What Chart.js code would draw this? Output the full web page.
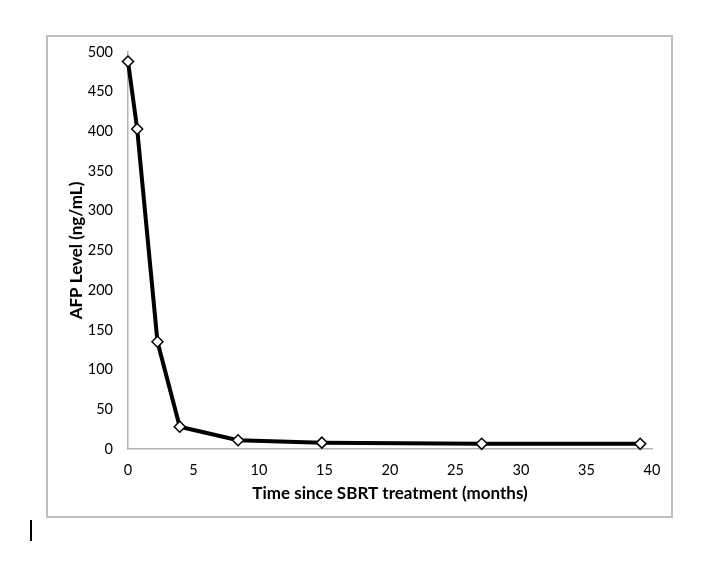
<!DOCTYPE html>
<html>
<head>
<meta charset="utf-8">
<script src="https://cdn.jsdelivr.net/npm/chart.js@4"></script>
<style>
    html, body { margin: 0; padding: 0; background: #fff; }
    body { width: 720px; height: 562px; position: relative; overflow: hidden; }
    #frame {
        position: absolute; left: 46px; top: 35px; width: 627px; height: 483px;
        border: 2px solid #bfbfbf; box-sizing: border-box;
    }
    #cursor { position: absolute; left: 30px; top: 520px; width: 2px; height: 21px; background: #000; }
</style>
</head>
<body>
<div id="frame"><canvas id="afpChart"></canvas></div>
<div id="cursor"></div>
<script>
// AFP level after SBRT treatment
const months = [0, 0.7, 2.25, 3.95, 8.4, 14.8, 27, 39.1];
const afpLevels = [488, 403, 135, 28, 11, 8, 6.5, 6.5];
const xTicks = [0, 5, 10, 15, 20, 25, 30, 35, 40];
const yTicks = [0, 50, 100, 150, 200, 250, 300, 350, 400, 450, 500];

const axisColor = '#b3b3b3';
const tickFont = { family: 'Lato', size: 14.5 };
const titleFont = { family: 'Lato', size: 17, weight: 'bold' };

window.addEventListener('DOMContentLoaded', () => {
    const ctx = document.getElementById('afpChart');
    ctx.width = 623;
    ctx.height = 479;

    new Chart(ctx.getContext('2d'), {
        type: 'scatter',
        data: {
            datasets: [{
                data: months.map((m, i) => ({ x: m, y: afpLevels[i] })),
                showLine: true,
                borderColor: '#000',
                borderWidth: 4,
                tension: 0,
                clip: false,
                pointStyle: 'rectRot',
                pointRadius: 5.5,
                pointBorderWidth: 1.5,
                pointBorderColor: '#000',
                pointBackgroundColor: '#fff'
            }]
        },
        options: {
            responsive: false,
            animation: false,
            layout: { autoPadding: false, padding: { top: 15, right: 19, left: 0, bottom: 0 } },
            plugins: {
                legend: { display: false },
                tooltip: { enabled: false }
            },
            scales: {
                x: {
                    type: 'linear',
                    min: 0,
                    max: 40,
                    afterBuildTicks: axis => { axis.ticks = xTicks.map(v => ({ value: v })); },
                    afterFit: axis => {
                        axis.height = 67;
                        axis.paddingLeft = 0;
                        axis.paddingRight = 0;
                    },
                    grid: { display: false, drawTicks: false },
                    border: { display: true, color: axisColor, width: 1.5 },
                    ticks: { color: '#000', font: tickFont, padding: 13, maxRotation: 0 },
                    title: {
                        display: true,
                        text: 'Time since SBRT treatment (months)',
                        color: '#000',
                        font: titleFont,
                        padding: { top: 0, bottom: 12 }
                    }
                },
                y: {
                    min: 0,
                    max: 500,
                    afterBuildTicks: axis => { axis.ticks = yTicks.map(v => ({ value: v })); },
                    // tick padding would otherwise push the plot top down
                    afterFit: axis => {
                        axis.width = 80;
                        axis.paddingTop = 0;
                        axis.paddingBottom = 0;
                    },
                    grid: { display: false, drawTicks: false },
                    border: { display: true, color: axisColor, width: 1.5 },
                    ticks: { color: '#000', font: tickFont, padding: 15 },
                    title: {
                        display: true,
                        text: 'AFP Level (ng/mL)',
                        color: '#000',
                        font: titleFont,
                        padding: { top: 18, bottom: 0 }
                    }
                }
            }
        }
    });
});
</script>
</body>
</html>
